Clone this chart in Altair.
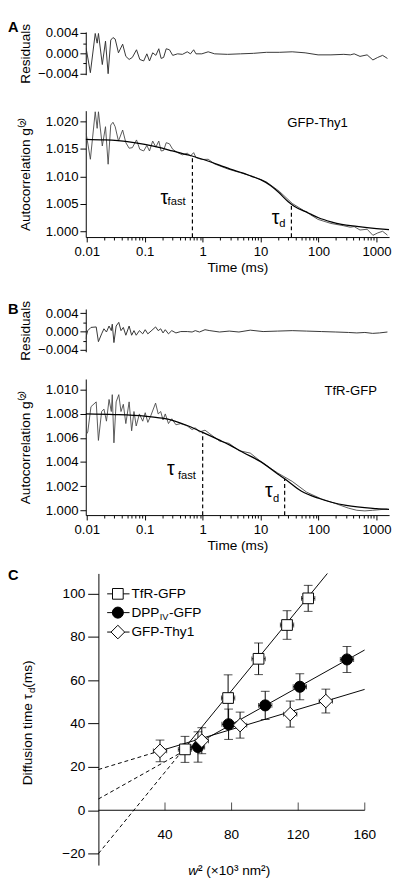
import altair as alt
import pandas as pd

FONT = "Liberation Sans"

# ---------------- Panel A : GFP-Thy1 ----------------
time_A = [0.00974, 0.01153, 0.01398, 0.0151, 0.0159, 0.01852, 0.02104, 0.02334, 0.0259, 0.02828,
          0.0309, 0.0352, 0.04156, 0.0472, 0.0538, 0.0611, 0.0721, 0.0822, 0.0959, 0.1088,
          0.1208, 0.1371, 0.1557, 0.1748, 0.1917, 0.2118, 0.235, 0.267, 0.304, 0.369,
          0.447, 0.542, 0.6155, 0.699, 0.767, 0.966, 1.245, 1.612, 2.69, 4.51,
          7.52, 12.55, 21.0, 35.1, 58.6, 98.1, 163.8, 273, 353, 412,
          519.6, 689, 867, 1051, 1275, 1545]
resid_A = [0.0010, -0.0038, 0.0039, 0.0020, 0.0039, -0.0022, 0.0024, -0.0040, 0.0026, 0.0031,
           0.0028, 0.0001, 0.0018, -0.0006, -0.0012, -0.0008, 0.0007, -0.0012, -0.0015, -0.0001,
           -0.0015, 0.0001, -0.0004, 0.0009, -0.0010, -0.0008, 0.0009, 0.0007, -0.0004, -0.0001,
           -0.0002, 0.0003, -0.0001, 0.0007, -0.0001, -0.0001, 0.0003, -0.0001, -0.0002, -0.0001,
           0.0000, 0.0002, 0.0002, 0.0003, 0.0001, -0.0003, -0.0003, -0.0002, -0.0003, -0.0001,
           -0.0006, -0.0003, -0.0013, -0.0008, -0.0004, -0.0010]
g2_A = [1.0178, 1.0131, 1.0217, 1.0187, 1.0217, 1.0155, 1.0190, 1.0122, 1.0193, 1.0198,
        1.0190, 1.0164, 1.0184, 1.0161, 1.0151, 1.0152, 1.0166, 1.0149, 1.0146, 1.0156,
        1.0146, 1.0164, 1.0153, 1.0164, 1.0146, 1.0147, 1.0161, 1.0159, 1.0149, 1.0143,
        1.0139, 1.0142, 1.0137, 1.0143, 1.0134, 1.01305, 1.0131, 1.01225, 1.01135, 1.01065,
        1.00995, 1.0090, 1.0073, 1.0051, 1.00365, 1.0022, 1.00147, 1.00105, 1.00078, 1.0009,
        1.00028, 1.00042, 0.99932, 0.99975, 1.00005, 0.99935]
fit_time_A = [0.0095, 0.02, 0.05, 0.1, 0.2, 0.3, 0.5, 0.7, 1, 2, 3, 5, 7, 10, 15, 20, 30, 34,
              40, 60, 75, 100, 164, 250, 458, 1000, 1650]
fit_g2_A = [1.0167, 1.0166, 1.0163, 1.0158, 1.0151, 1.0146, 1.0140, 1.0136, 1.0131, 1.0120,
            1.0113, 1.0106, 1.0100, 1.0094, 1.0083, 1.0072, 1.0054, 1.00495, 1.00445, 1.0036,
            1.0031, 1.0025, 1.00177, 1.0013, 1.00094, 1.00055, 1.00035]
tau_A = [0.665, 34.0]          # tau_fast, tau_d (ms)
tau_A_g2 = [1.0137, 1.00495]

# ---------------- Panel B : TfR-GFP ----------------
time_B = [0.00951, 0.01039, 0.0118, 0.01453, 0.01587, 0.01803, 0.01977, 0.02185, 0.02424, 0.02649,
          0.02753, 0.02939, 0.03211, 0.03563, 0.03894, 0.04271, 0.04719, 0.05379, 0.05943, 0.06522,
          0.07125, 0.08091, 0.09224, 0.1019, 0.1131, 0.1284, 0.1539, 0.1708, 0.1887, 0.207,
          0.2262, 0.2568, 0.2928, 0.3455, 0.4189, 0.5421, 0.6572, 0.7461, 0.8807, 1.097,
          1.329, 1.954, 2.872, 4.222, 6.624, 11.05, 19.7, 35.1, 62.5, 111.4,
          198.5, 327.4, 457.6, 630.1, 857.4, 1122, 1545]
resid_B = [-0.0016, 0.0002, 0.0009, 0.0010, -0.0022, -0.0005, 0.0006, -0.0001, 0.0012, 0.0002,
           0.0016, -0.0024, 0.0012, 0.0020, 0.0002, 0.0009, -0.0008, 0.0012, -0.0008, 0.0002,
           -0.0008, 0.0002, -0.0005, 0.0004, -0.0005, 0.0001, 0.0010, 0.0002, 0.0006, -0.0003,
           0.0004, -0.0005, 0.0002, -0.0003, 0.0000, 0.0000, -0.0001, 0.0002, -0.0001, 0.0004,
           0.0002, -0.0001, 0.0001, -0.0001, 0.0003, 0.0000, 0.0001, 0.0002, 0.0001, 0.0000,
           -0.0001, -0.0002, -0.0003, -0.0002, -0.0004, -0.0003, -0.0001]
g2_B = [1.0062, 1.0065, 1.0086, 1.0090, 1.0058, 1.0082, 1.0084, 1.0074, 1.0092, 1.0082,
        1.0096, 1.0056, 1.0090, 1.0096, 1.0082, 1.0088, 1.0072, 1.0090, 1.0066, 1.0082,
        1.0070, 1.0080, 1.0074, 1.0081, 1.0073, 1.0079, 1.0089, 1.0080, 1.0082, 1.0075,
        1.0080, 1.0072, 1.0076, 1.0071, 1.0072, 1.0070, 1.0067, 1.00685, 1.0065, 1.00665,
        1.00635, 1.00575, 1.00555, 1.00495, 1.00475, 1.0039, 1.0031, 1.0024, 1.0015, 1.00095,
        1.00055, 1.00018, 1.0000, 0.99995, 1.0000, 1.00005, 1.0001]
fit_time_B = [0.0095, 0.03, 0.1, 0.2, 0.3, 0.5, 1, 2, 3, 5, 10, 20, 26, 50, 100, 300, 1000, 1650]
fit_g2_B = [1.0080, 1.00795, 1.00782, 1.00765, 1.00747, 1.0071, 1.00647, 1.0058, 1.00539, 1.0048,
            1.00404, 1.0030, 1.00262, 1.0016, 1.0010, 1.0004, 1.00014, 1.00008]
tau_B = [1.0, 26.0]
tau_B_g2 = [1.0065, 1.00262]

# ---------------- Panel C : diffusion law ----------------
tfr_w2 = [52, 77.9, 96.2, 113.3, 126]
tfr_tau = [28.1, 51.8, 69.9, 85.5, 97.8]
tfr_tau_err = [6, 10.7, 7.3, 6.6, 6]
dpp_w2 = [59.8, 78.2, 100.2, 121, 149.3]
dpp_tau = [29.2, 39.7, 48.4, 57, 69.6]
dpp_tau_err = [7, 7, 6.5, 6, 6]
thy_w2 = [37, 62.1, 85.1, 115.2, 136.6]
thy_tau = [27.4, 32.1, 39.3, 44.4, 50.4]
thy_tau_err = [5, 6, 6, 6, 5.5]
w2_err = [4, 4, 4, 4, 4]
# fitted lines: [intercept point, start of solid part, end]
tfr_fit_w2 = [0, 52, 140]
tfr_fit_tau = [-20, 28.9, 111.6]
dpp_fit_w2 = [0, 52, 160]
dpp_fit_tau = [5.2, 27.6, 74.0]
thy_fit_w2 = [0, 37, 160]
thy_fit_tau = [18.8, 27.4, 55.8]
c_x_ticks = [40, 80, 120, 160]
c_y_ticks = [-20, 0, 20, 40, 60, 80, 100]

# ---------------- helpers ----------------
DEC = "abs(log(datum.value)/LN10 - round(log(datum.value)/LN10)) < 0.001"
log_ticks = [m * 10.0 ** e for e in range(-2, 4) for m in range(1, 10) if m * 10.0 ** e <= 1650]
W = 312
LBL = 13.5
TTL = 14

def xs():
    return alt.Scale(type="log", domain=[0.0096, 1650], nice=False)

x_axis_main = alt.Axis(values=log_ticks, format="~g", labelExpr=f"{DEC} ? datum.label : ''",
                       tickSize={"condition": {"test": DEC, "value": 5}, "value": 3},
                       labelOverlap=False, labelFlush=False, labelPadding=3, title="Time (ms)",
                       titlePadding=3, labelFontSize=LBL, titleFontSize=TTL)


def letter(ch, y):
    return alt.Chart(pd.DataFrame({"s": [ch]})).mark_text(
        align="left", baseline="alphabetic", fontSize=15, fontWeight="bold", font=FONT
    ).encode(x=alt.value(-80), y=alt.value(y), text="s:N")


def resid_panel(time, resid, dom, ch, ch_y):
    yax = alt.Axis(values=[-0.004, -0.002, 0, 0.002, 0.004], format=".3f",
                   labelExpr="abs(datum.value) < 0.001 || abs(datum.value) > 0.003 ? datum.label : ''",
                   tickSize={"condition": {"test": "abs(datum.value) > 0.001 && abs(datum.value) < 0.003",
                                           "value": 3}, "value": 6},
                   labelPadding=2, title="Residuals", titlePadding=7, minExtent=48, maxExtent=48,
                   labelFontSize=LBL, titleFontSize=TTL)
    line = alt.Chart(pd.DataFrame({"t": time, "r": resid})).mark_line(
        color="#333", strokeWidth=1, clip=True
    ).encode(x=alt.X("t:Q", scale=xs(), axis=None),
             y=alt.Y("r:Q", scale=alt.Scale(domain=dom, nice=False, zero=False), axis=yax))
    return alt.layer(line, letter(ch, ch_y)).properties(width=W, height=44)


def main_panel(time, g2, fit_t, fit_g, taus, tau_g, dom, yvals, height, name, name_t, name_g,
               tau_text):
    yax = alt.Axis(values=yvals, format=".3f", tickSize=6, labelPadding=2,
                   title="Autocorrelation g⁽²⁾", titlePadding=7, minExtent=48, maxExtent=48,
                   labelFontSize=LBL, titleFontSize=TTL)
    X = alt.X("t:Q", scale=xs(), axis=x_axis_main)
    Y = alt.Y("g:Q", scale=alt.Scale(domain=dom, nice=False, zero=False), axis=yax)
    data = alt.Chart(pd.DataFrame({"t": time, "g": g2})).mark_line(
        color="#444", strokeWidth=0.9, clip=True).encode(x=X, y=Y)
    fit = alt.Chart(pd.DataFrame({"t": fit_t, "g": fit_g})).mark_line(
        color="black", strokeWidth=1.3, interpolate="monotone", clip=True).encode(x=X, y=Y)
    rules = alt.Chart(pd.DataFrame({"t": taus, "g": [dom[0], dom[0]], "g2": tau_g})).mark_rule(
        strokeDash=[4, 3], color="black", strokeWidth=1.2).encode(x=X, y=Y, y2="g2:Q")
    lab = alt.Chart(pd.DataFrame({"t": [name_t], "g": [name_g], "s": [name]})).mark_text(
        align="left", baseline="alphabetic", fontSize=13.5, font=FONT).encode(x=X, y=Y, text="s:N")
    layers = [rules, data, fit, lab]
    for (t, g, s, size, dx) in tau_text:
        layers.append(alt.Chart(pd.DataFrame({"t": [t], "g": [g], "s": [s]})).mark_text(
            align="right", baseline="alphabetic", fontSize=size, dx=dx, font=FONT
        ).encode(x=X, y=Y, text="s:N"))
    return alt.layer(*layers).properties(width=W, height=height)


resA = resid_panel(time_A, resid_A, [-0.0042, 0.0042], "A", 0)
mainA = main_panel(time_A, g2_A, fit_time_A, fit_g2_A, tau_A, tau_A_g2, [0.999, 1.0219],
                   [1.000, 1.005, 1.010, 1.015, 1.020], 130, "GFP-Thy1", 28.9, 1.01889,
                   [(tau_A[0], 1.00494, "τ", 20, -25), (tau_A[0], 1.00477, "fast", 11.5, -7),
                    (tau_A[1], 1.00136, "τ", 20, -12.3), (tau_A[1], 1.00076, "d", 11.5, -6)])
resB = resid_panel(time_B, resid_B, [-0.0044, 0.0049], "B", 5)
mainB = main_panel(time_B, g2_B, fit_time_B, fit_g2_B, tau_B, tau_B_g2, [0.9996, 1.0109],
                   [1.000, 1.002, 1.004, 1.006, 1.008, 1.010], 140, "TfR-GFP", 126.5, 1.0096,
                   [(tau_B[0], 1.00297, "τ", 20, -28.7), (tau_B[0], 1.00256, "fast", 11.5, -7),
                    (tau_B[1], 1.00108, "τ", 20, -12.3), (tau_B[1], 1.00068, "d", 11.5, -5.6)])

# ---------------- Panel C ----------------
HC = 300
xsC = alt.Scale(domain=[-7.59, 160], nice=False, zero=False)
ysC = alt.Scale(domain=[-25.3, 109.3], nice=False, zero=False)
yaxC = alt.Axis(values=c_y_ticks, tickSize=11, labelPadding=3, offset=-13, title=None,
                labelFontSize=14)


def XC(f):
    return alt.X(f, type="quantitative", scale=xsC, axis=None)


def YC(f):
    return alt.Y(f, type="quantitative", scale=ysC, axis=yaxC)


series = [("TfR-GFP", tfr_w2, tfr_tau, tfr_tau_err, tfr_fit_w2, tfr_fit_tau, "square", "white", 121),
          ("DPP", dpp_w2, dpp_tau, dpp_tau_err, dpp_fit_w2, dpp_fit_tau, "circle", "black", 130),
          ("GFP-Thy1", thy_w2, thy_tau, thy_tau_err, thy_fit_w2, thy_fit_tau, "diamond", "white", 196)]

c_layers = []
line_rows, pts = [], []
for name, w, tau, err, fw, ft, shape, fill, size in series:
    line_rows.append(pd.DataFrame({"s": [name] * 2, "w": fw[:2], "tau": ft[:2], "seg": "dash"}))
    line_rows.append(pd.DataFrame({"s": [name] * 2, "w": fw[1:], "tau": ft[1:], "seg": "solid"}))
lines_df = pd.concat(line_rows)
c_layers.append(alt.Chart(lines_df[lines_df.seg == "dash"]).mark_line(
    strokeDash=[4, 3], color="black", strokeWidth=1, clip=True).encode(
    x=XC("w"), y=YC("tau"), detail="s:N"))
c_layers.append(alt.Chart(lines_df[lines_df.seg == "solid"]).mark_line(
    color="black", strokeWidth=1, clip=True).encode(x=XC("w"), y=YC("tau"), detail="s:N"))

# x axis drawn at tau = 0
c_layers.append(alt.Chart(pd.DataFrame({"a": [0], "b": [160], "z": [0]})).mark_rule(
    color="black", strokeWidth=1).encode(x=XC("a"), x2="b:Q", y=YC("z")))
xt = pd.DataFrame({"v": c_x_ticks, "z": [0] * 4, "lab": [str(v) for v in c_x_ticks]})
c_layers.append(alt.Chart(xt).mark_tick(orient="vertical", size=8, yOffset=-4, color="black",
                                        thickness=1).encode(x=XC("v"), y=YC("z")))
c_layers.append(alt.Chart(xt).mark_text(dy=26, baseline="middle", fontSize=14, font=FONT).encode(
    x=XC("v"), y=YC("z"), text="lab:N"))

for name, w, tau, err, fw, ft, shape, fill, size in series:
    df = pd.DataFrame({"w": w, "tau": tau})
    df["lo"] = [a - b for a, b in zip(tau, err)]
    df["hi"] = [a + b for a, b in zip(tau, err)]
    df["wl"] = [a - b for a, b in zip(w, w2_err)]
    df["wh"] = [a + b for a, b in zip(w, w2_err)]
    base = alt.Chart(df)
    c_layers.append(base.mark_rule(color="black", strokeWidth=1).encode(x=XC("w"), y=YC("lo"), y2="hi:Q"))
    c_layers.append(base.mark_tick(orient="horizontal", size=9, thickness=1, color="black").encode(
        x=XC("w"), y=YC("lo")))
    c_layers.append(base.mark_tick(orient="horizontal", size=9, thickness=1, color="black").encode(
        x=XC("w"), y=YC("hi")))
    c_layers.append(base.mark_rule(color="black", strokeWidth=1).encode(x=XC("wl"), x2="wh:Q", y=YC("tau")))
    c_layers.append(base.mark_tick(orient="vertical", size=5, thickness=1, color="black").encode(
        x=XC("wl"), y=YC("tau")))
    c_layers.append(base.mark_tick(orient="vertical", size=5, thickness=1, color="black").encode(
        x=XC("wh"), y=YC("tau")))
    pts.append(base.mark_point(shape=shape, filled=True, fill=fill, stroke="black", strokeWidth=1,
                               size=size, opacity=1).encode(x=XC("w"), y=YC("tau")))
c_layers += pts

# legend
one = pd.DataFrame({"k": [0]})
for i, (name, w, tau, err, fw, ft, shape, fill, size) in enumerate(series):
    yy = [21, 40.3, 60.3][i]
    c_layers.append(alt.Chart(one).mark_rule(color="black", strokeWidth=1).encode(
        x=alt.value(22), x2=alt.value(45), y=alt.value(yy)))
    c_layers.append(alt.Chart(one).mark_point(shape=shape, filled=True, fill=fill, stroke="black",
                                              strokeWidth=1, size=size, opacity=1).encode(
        x=alt.value(33), y=alt.value(yy)))


def ctext(s, x, y, size=14, style="normal", angle=0, align="left", baseline="middle"):
    return alt.Chart(pd.DataFrame({"s": [s]})).mark_text(
        align=align, baseline=baseline, fontSize=size, fontStyle=style, angle=angle, font=FONT
    ).encode(x=alt.value(x), y=alt.value(y), text="s:N")


c_layers += [ctext("TfR-GFP", 47, 21), ctext("DPP", 47, 40.3), ctext("IV", 76, 44.5, size=9.5),
             ctext("-GFP", 85.5, 40.3), ctext("GFP-Thy1", 47, 60.3)]
# y title (rotated pieces)
c_layers += [ctext("Diffusion time τ", -55, 218, angle=270, baseline="alphabetic"),
             ctext("d", -52, 123.1, size=10, angle=270, baseline="alphabetic"),
             ctext(" (ms)", -55, 117.5, angle=270, baseline="alphabetic")]
# x title
c_layers += [ctext("w", 105.3, HC + 10, style="italic", baseline="alphabetic"),
             ctext("² (×10³ nm²)", 115.4, HC + 10, baseline="alphabetic")]
c_layers.append(letter("C", 7))

panelC = alt.layer(*c_layers).properties(width=287, height=HC)

top = alt.vconcat(resA, mainA, spacing=28)
mid = alt.vconcat(resB, mainB, spacing=19)
upper = alt.vconcat(top, mid, spacing=26)
chart = alt.vconcat(upper, panelC, spacing=16).properties(
    padding={"left": 0, "top": 0, "right": 0, "bottom": 0}
).configure_axis(
    labelFont=FONT, titleFont=FONT, labelColor="black", titleColor="black", domainColor="black",
    tickColor="black", titleFontWeight="normal", grid=False, domainWidth=1, tickWidth=1
).configure_view(stroke=None).configure_text(font=FONT, color="black")

chart.save("out.html", embed_options={"renderer": "svg", "actions": False})
